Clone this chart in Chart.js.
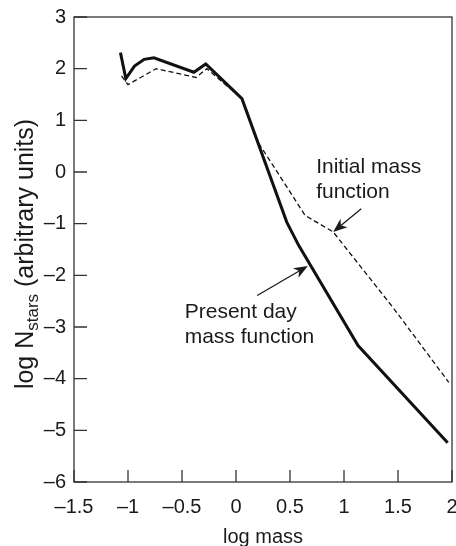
<!DOCTYPE html>
<html>
<head>
<meta charset="utf-8">
<script src="https://cdn.jsdelivr.net/npm/chart.js@4.4.1/dist/chart.umd.min.js"></script>
<style>
    html, body { margin: 0; padding: 0; background: #fff; }
    #wrap { width: 456px; height: 546px; }
</style>
</head>
<body>
<div id="wrap"><canvas id="imf-canvas"></canvas></div>
<script>
var FONT = "'Liberation Sans', Arial, Helvetica, sans-serif";
var INK = '#1a1a1a';

// present day mass function (solid)
var presentMass = [-1.07, -1.02, -0.94, -0.85, -0.76, -0.39, -0.28, 0.055, 0.47, 0.58, 1.13, 1.96];
var presentN = [2.31, 1.81, 2.05, 2.18, 2.21, 1.93, 2.09, 1.42, -0.97, -1.42, -3.36, -5.24];

// initial mass function (dashed)
var initialMass = [-1.06, -1.0, -0.74, -0.37, -0.27, 0.055, 0.2, 0.64, 0.9, 1.46, 1.97];
var initialN = [1.86, 1.69, 2.0, 1.83, 2.0, 1.42, 0.59, -0.84, -1.16, -2.64, -4.07];

var xTicks = [-1.5, -1, -0.5, 0, 0.5, 1, 1.5, 2];
var yTicks = [3, 2, 1, 0, -1, -2, -3, -4, -5, -6];

function toPoints(xs, ys) {
    return xs.map(function(x, i) { return { x: x, y: ys[i] }; });
}

function minusLabel(v) {
    return v < 0 ? '\u2013' + Math.abs(v) : String(v);
}

// text notes and arrows, placed in data units
var notes = [
    { lines: ['Initial mass', 'function'], x: 0.742, y: -0.02 },
    { lines: ['Present day', 'mass function'], x: -0.475, y: -2.82 }
];
var arrows = [
    { from: [1.16, -0.71], to: [0.9, -1.16] },
    { from: [0.196, -2.39], to: [0.665, -1.82] }
];

function drawArrow(ctx, x1, y1, x2, y2) {
    var ang = Math.atan2(y2 - y1, x2 - x1);
    var len = 14, half = 5.5, notch = 4;
    ctx.beginPath();
    ctx.moveTo(x1, y1);
    ctx.lineTo(x2 - Math.cos(ang) * (len - notch), y2 - Math.sin(ang) * (len - notch));
    ctx.stroke();
    ctx.save();
    ctx.translate(x2, y2);
    ctx.rotate(ang);
    ctx.beginPath();
    ctx.moveTo(0, 0);
    ctx.lineTo(-len, -half);
    ctx.lineTo(-len + notch, 0);
    ctx.lineTo(-len, half);
    ctx.closePath();
    ctx.fill();
    ctx.restore();
}

var framePlugin = {
    id: 'frameAndNotes',
    afterDatasetsDraw: function(chart) {
        var ctx = chart.ctx;
        var a = chart.chartArea;
        var xs = chart.scales.x, ys = chart.scales.y;
        ctx.save();

        // box around the plot with inward ticks
        ctx.strokeStyle = '#333';
        ctx.lineWidth = 1.3;
        ctx.strokeRect(a.left, a.top, a.right - a.left, a.bottom - a.top);
        ctx.beginPath();
        yTicks.forEach(function(v) {
            var py = ys.getPixelForValue(v);
            ctx.moveTo(a.left, py);
            ctx.lineTo(a.left + 13, py);
        });
        xTicks.forEach(function(v) {
            var px = xs.getPixelForValue(v);
            ctx.moveTo(px, a.bottom);
            ctx.lineTo(px, a.bottom - 12);
        });
        ctx.stroke();

        // notes
        ctx.fillStyle = INK;
        ctx.font = '21px ' + FONT;
        ctx.textAlign = 'left';
        ctx.textBaseline = 'alphabetic';
        notes.forEach(function(n) {
            var px = xs.getPixelForValue(n.x);
            var py = ys.getPixelForValue(n.y);
            n.lines.forEach(function(t, i) {
                ctx.fillText(t, px, py + i * 25);
            });
        });

        ctx.strokeStyle = INK;
        ctx.lineWidth = 1.3;
        arrows.forEach(function(ar) {
            drawArrow(ctx,
                xs.getPixelForValue(ar.from[0]), ys.getPixelForValue(ar.from[1]),
                xs.getPixelForValue(ar.to[0]), ys.getPixelForValue(ar.to[1]));
        });

        // y axis title with subscript
        var big = '25px ' + FONT, small = '17px ' + FONT;
        var parts = [
            { t: 'log N', f: big, dy: 0 },
            { t: 'stars', f: small, dy: 5 },
            { t: ' (arbitrary units)', f: big, dy: 0 }
        ];
        var total = 0;
        parts.forEach(function(p) { ctx.font = p.f; p.w = ctx.measureText(p.t).width; total += p.w; });
        ctx.translate(33, 254);
        ctx.rotate(-Math.PI / 2);
        var cx = -total / 2;
        parts.forEach(function(p) {
            ctx.font = p.f;
            ctx.fillText(p.t, cx, p.dy);
            cx += p.w;
        });
        ctx.restore();
    }
};

var tickFont = { family: FONT, size: 20 };

new Chart(document.getElementById('imf-canvas'), {
    type: 'line',
    data: {
        datasets: [
            {
                label: 'Present day mass function',
                data: toPoints(presentMass, presentN),
                borderColor: '#111',
                borderWidth: 3,
                pointRadius: 0,
                tension: 0,
                fill: false
            },
            {
                label: 'Initial mass function',
                data: toPoints(initialMass, initialN),
                borderColor: '#111',
                borderWidth: 1.3,
                borderDash: [5, 3],
                pointRadius: 0,
                tension: 0,
                fill: false
            }
        ]
    },
    options: {
        responsive: true,
        maintainAspectRatio: false,
        animation: false,
        layout: { padding: { top: 17, right: 4, left: 0, bottom: 0 } },
        plugins: {
            legend: { display: false },
            tooltip: { enabled: false }
        },
        scales: {
            x: {
                type: 'linear',
                min: -1.5,
                max: 2,
                afterBuildTicks: function(scale) {
                    scale.ticks = xTicks.map(function(v) { return { value: v }; });
                },
                afterFit: function(scale) {
                    scale.height = 64;
                    scale.paddingLeft = 0;
                    scale.paddingRight = 0;
                },
                grid: { display: false, drawTicks: false },
                border: { display: false },
                ticks: {
                    color: INK,
                    font: tickFont,
                    padding: 13,
                    maxRotation: 0,
                    autoSkip: false,
                    callback: minusLabel
                },
                title: {
                    display: true,
                    text: 'log mass',
                    color: INK,
                    font: { family: FONT, size: 20 },
                    padding: { top: 0, bottom: -3 }
                }
            },
            y: {
                type: 'linear',
                min: -6,
                max: 3,
                afterBuildTicks: function(scale) {
                    scale.ticks = yTicks.map(function(v) { return { value: v }; });
                },
                afterFit: function(scale) {
                    scale.width = 74;
                    scale.paddingTop = 0;
                    scale.paddingBottom = 0;
                },
                grid: { display: false, drawTicks: false },
                border: { display: false },
                ticks: {
                    color: INK,
                    font: tickFont,
                    padding: 8,
                    autoSkip: false,
                    callback: minusLabel
                }
            }
        }
    },
    plugins: [framePlugin]
});
</script>
</body>
</html>
